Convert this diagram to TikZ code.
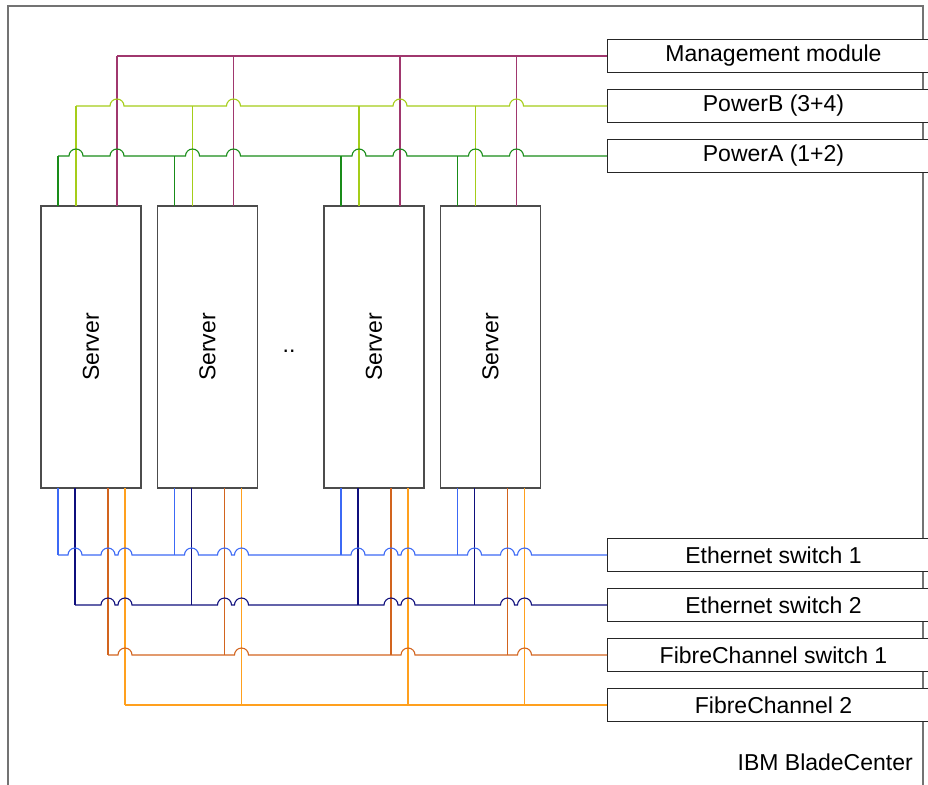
\documentclass[tikz,border=0pt]{standalone}
\usepackage{fontspec}
\setmainfont{Liberation Sans}
\usepackage{tikz}

\definecolor{mgmtcol}{RGB}{160,55,110}
\definecolor{pwrbcol}{RGB}{165,205,25}
\definecolor{pwracol}{RGB}{25,140,25}
\definecolor{eth1col}{RGB}{60,105,245}
\definecolor{eth2col}{RGB}{15,15,125}
\definecolor{fc1col}{RGB}{210,100,30}
\definecolor{fc2col}{RGB}{255,160,30}

\tikzset{
  server/.style={draw=black!70,line width=1.3pt,fill=white,minimum width=100pt,
    minimum height=282pt,inner sep=0pt,outer sep=0pt,anchor=north west},
  module/.style={draw=black!85,line width=1pt,fill=white,minimum width=333pt,
    minimum height=33pt,inner sep=0pt,outer sep=0pt,anchor=west},
  mgmtline/.style={line width=1.1pt,draw=mgmtcol},
  pwrbline/.style={line width=1.1pt,draw=pwrbcol},
  pwraline/.style={line width=1.1pt,draw=pwracol},
  eth1line/.style={line width=1.1pt,draw=eth1col},
  eth2line/.style={line width=1.1pt,draw=eth2col},
  fc1line/.style={line width=1.1pt,draw=fc1col},
  fc2line/.style={line width=1.1pt,draw=fc2col},
  hop/.style={start angle=180,end angle=0,radius=7pt}
}

\begin{document}
\begin{tikzpicture}[x=1pt,y=1pt,font=\fontsize{23}{27}\selectfont]
    \useasboundingbox (0,0) rectangle (928,-784);
    %enclosure
    \draw [line width=1.5pt,black!55] (8,-800) -- (8,-6) -- (923,-6) -- (923,-800);
    \node[anchor=east,inner sep=0pt] (bc) at (913,-762) {IBM BladeCenter};
    %blades
    \node[server] (s1) at (41,-206) {\rotatebox{90}{Server}};
    \node[server] (s2) at (157.5,-206) {\rotatebox{90}{Server}};
    \node[server] (s3) at (324,-206) {\rotatebox{90}{Server}};
    \node[server] (s4) at (440.5,-206) {\rotatebox{90}{Server}};
    \node[anchor=base west,inner sep=0pt] (dots) at (282.5,-352) {..};
    %modules
    \node[module] (mm) at (607,-56) {Management module};
    \node[module] (pwb) at (607,-106) {PowerB (3+4)};
    \node[module] (pwa) at (607,-156) {PowerA (1+2)};
    \node[module] (eth1) at (607,-555) {Ethernet switch 1};
    \node[module] (eth2) at (607,-605) {Ethernet switch 2};
    \node[module] (fc1) at (607,-655) {FibreChannel switch 1};
    \node[module] (fc2) at (607,-705) {FibreChannel 2};

    %cables up from each blade
    \foreach \s in {s1,s2,s3,s4} {
        \draw[pwraline] ([xshift=17pt]\s.north west) -- ([xshift=17pt]\s.north west |- pwa.west);
        \draw[pwrbline] ([xshift=35pt]\s.north west) -- ([xshift=35pt]\s.north west |- pwb.west);
        \draw[mgmtline] ([xshift=76pt]\s.north west) -- ([xshift=76pt]\s.north west |- mm.west);
    }
    \draw[mgmtline] ([xshift=76pt]s1.north west |- mm.west) -- (mm.west);
    \draw[pwrbline] ([xshift=35pt]s1.north west |- pwb.west)
        \foreach \s in {s1,s2,s3,s4} {
            -- ([xshift=69pt]\s.north west |- pwb.west) arc[hop]}
        -- (pwb.west);
    \draw[pwraline] ([xshift=17pt]s1.north west |- pwa.west)
        \foreach \s in {s1,s2,s3,s4} {\foreach \o in {35,76} {
            -- ([xshift=\o pt-7pt]\s.north west |- pwa.west) arc[hop]}}
        -- (pwa.west);

    %cables down from each blade
    \foreach \s in {s1,s2,s3,s4} {
        \draw[eth1line] ([xshift=17pt]\s.south west) -- ([xshift=17pt]\s.south west |- eth1.west);
        \draw[eth2line] ([xshift=34pt]\s.south west) -- ([xshift=34pt]\s.south west |- eth2.west);
        \draw[fc1line] ([xshift=67pt]\s.south west) -- ([xshift=67pt]\s.south west |- fc1.west);
        \draw[fc2line] ([xshift=84pt]\s.south west) -- ([xshift=84pt]\s.south west |- fc2.west);
    }
    \draw[eth1line] ([xshift=17pt]s1.south west |- eth1.west)
        \foreach \s in {s1,s2,s3,s4} {\foreach \o in {34,67,84} {
            -- ([xshift=\o pt-7pt]\s.south west |- eth1.west) arc[hop]}}
        -- (eth1.west);
    \draw[eth2line] ([xshift=34pt]s1.south west |- eth2.west)
        \foreach \s in {s1,s2,s3,s4} {\foreach \o in {67,84} {
            -- ([xshift=\o pt-7pt]\s.south west |- eth2.west) arc[hop]}}
        -- (eth2.west);
    \draw[fc1line] ([xshift=67pt]s1.south west |- fc1.west)
        \foreach \s in {s1,s2,s3,s4} {
            -- ([xshift=77pt]\s.south west |- fc1.west) arc[hop]}
        -- (fc1.west);
    \draw[fc2line] ([xshift=84pt]s1.south west |- fc2.west) -- (fc2.west);
\end{tikzpicture}
\end{document}
